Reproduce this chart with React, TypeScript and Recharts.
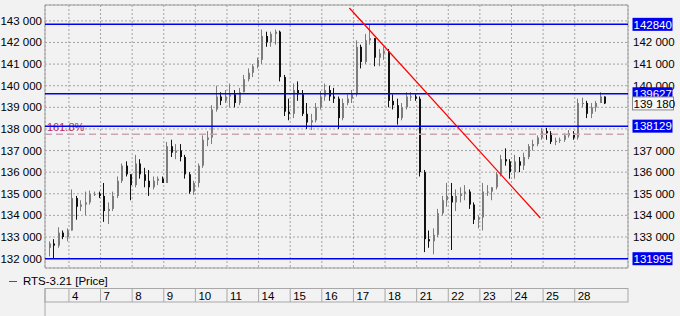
import { ComposedChart, Bar, XAxis, YAxis, CartesianGrid, ReferenceLine, ReferenceArea, Legend } from 'recharts';

// trading days shown on the time axis (February)
const dayLabels = ['4', '7', '8', '9', '10', '11', '14', '15', '16', '17', '18', '21', '22', '23', '24', '25', '28'];

// OHLC, first 5 bars are the tail of the previous session, then 7 bars per day
const opens = [
  132500, 132700, 132600, 133200, 133000,
  133300, 134800, 134400, 134500, 134600, 135000, 135000, // 4
  134900, 134200, 134300, 134900, 135600, 136300, 135900, // 7
  135400, 136400, 135900, 135600, 135300, 135600, 135700, // 8
  135500, 137200, 136900, 137000, 136700, 135900, 135100, // 9
  135500, 136300, 137500, 137600, 138900, 139500, 139300, // 10
  139500, 139600, 139200, 139700, 140300, 140600, 140900, // 11
  141200, 142300, 142000, 142400, 142500, 140400, 138800, // 14
  138700, 139800, 139600, 138700, 138300, 138400, 139000, // 15
  139500, 139800, 139500, 139400, 138500, 139200, 139400, // 16
  139600, 141800, 141100, 142100, 142200, 141300, 141500, // 17
  141600, 139300, 139100, 138500, 139000, 139500, 139500, // 18
  139400, 136000, 132900, 132800, 133100, 134100, 134700, // 21
  134900, 134600, 134900, 135000, 135100, 134500, 133800, // 22
  133900, 135100, 135100, 135300, 135900, 136600, 136500, // 23
  136000, 136500, 136300, 136700, 137200, 137300, 137600, // 24
  137900, 137800, 137400, 137450, 137500, 137700, 137800, // 25
  137600, 139200, 139200, 138700, 139000, 139200, 139500, // 28
];
const highs = [
  132800, 132900, 133450, 133300, 133400,
  135200, 134900, 134700, 135100, 135150, 135100, 135100,
  135500, 134600, 135100, 135800, 136400, 136500, 135900,
  136800, 136600, 136200, 136100, 135800, 135800, 135800,
  137400, 137500, 137300, 137300, 136800, 136000, 135600,
  136400, 137700, 137900, 139100, 140000, 139700, 139800,
  140100, 139800, 139900, 140500, 140800, 141000, 141300,
  142600, 142500, 142500, 142600, 142550, 140500, 139400,
  140100, 140200, 139800, 139200, 138700, 139200, 139750,
  140100, 140000, 139900, 139500, 139400, 139600, 139800,
  142100, 141900, 142400, 142840, 142200, 141700, 141800,
  141700, 139600, 139400, 139200, 139700, 139700, 139600,
  139500, 136100, 133300, 133400, 134300, 134900, 135500,
  135500, 135200, 135300, 135400, 135200, 134600, 134000,
  135500, 135400, 135300, 136000, 136800, 137100, 136600,
  136800, 136700, 136900, 137300, 137500, 137700, 138050,
  138050, 137900, 137600, 137600, 137800, 137950, 137900,
  139400, 139450, 139300, 139200, 139300, 139700, 139500,
];
const lows = [
  132100, 131995, 132500, 132900, 132800,
  133300, 133800, 134200, 134000, 134500, 134900, 134800,
  133700, 133600, 134200, 134800, 135500, 135800, 134700,
  135300, 135700, 135300, 134900, 135200, 135400, 135500,
  135500, 136700, 136600, 136500, 135700, 135000, 134950,
  135300, 136200, 137200, 137300, 138800, 139100, 139200,
  139000, 139000, 139100, 139700, 140200, 140400, 140800,
  141000, 141800, 141800, 141900, 140200, 138600, 138400,
  138500, 139300, 138600, 138000, 137950, 138300, 138900,
  139300, 139300, 139200, 138000, 138400, 139100, 139200,
  139500, 140800, 141000, 141900, 140900, 140900, 141200,
  139000, 138900, 138200, 138400, 138900, 139300, 139300,
  135800, 132300, 132500, 132200, 133000, 134000, 134400,
  132400, 134200, 134600, 134700, 134300, 133600, 133400,
  133300, 134900, 134700, 135200, 135800, 136300, 135700,
  135700, 136000, 136100, 136600, 137000, 137200, 137500,
  137500, 137300, 137250, 137350, 137400, 137600, 137500,
  137500, 139000, 138500, 138500, 138800, 139200, 139150,
];
const closes = [
  132700, 132600, 133200, 133000, 133300,
  134800, 134400, 134500, 134600, 135000, 135000, 134900,
  134200, 134300, 134900, 135600, 136300, 135900, 135400,
  136400, 135900, 135600, 135300, 135600, 135700, 135500,
  137200, 136900, 137000, 136700, 135900, 135100, 135500,
  136300, 137500, 137600, 138900, 139500, 139300, 139500,
  139600, 139200, 139700, 140300, 140600, 140900, 141200,
  142300, 142000, 142400, 142500, 140400, 138800, 138700,
  139800, 139600, 138700, 138300, 138400, 139000, 139500,
  139800, 139500, 139400, 138500, 139200, 139400, 139600,
  141800, 141100, 142100, 142200, 141300, 141500, 141600,
  139300, 139100, 138500, 139000, 139500, 139500, 139400,
  136000, 132900, 132800, 133100, 134100, 134700, 134900,
  134600, 134900, 135000, 135100, 134500, 133800, 133900,
  135100, 135100, 135300, 135900, 136600, 136500, 136000,
  136500, 136300, 136700, 137200, 137300, 137600, 137900,
  137800, 137400, 137450, 137500, 137700, 137800, 137600,
  139200, 139200, 138700, 139000, 139200, 139500, 139180,
];

const yTicks = [132000, 133000, 134000, 135000, 136000, 137000, 138000, 139000, 140000, 141000, 142000, 143000];
// right scale: labels not hidden behind the price tags
const rightPlainTicks = [133000, 134000, 135000, 136000, 137000, 140000, 141000, 142000];
const levels = [142840, 139627, 138129, 131995];
const fibLevel = 137752;
const fibLabel = '161.8%';
const lastPrice = 139180;
const trendLine = [{ x: 62.1, y: 143596 }, { x: 104.4, y: 133878 }];

const LEAD_BARS = 5;
const BARS_PER_DAY = 7;
const X_MIN = -5.3;
const X_MAX = 123.8;
const Y_MIN = 131565;
const Y_MAX = 143735;
const PLOT_W = 583;
const FONT = '"Liberation Sans", Arial, sans-serif';

const data = opens.map((o, i) => ({
  x: i - LEAD_BARS + 0.5,
  open: o,
  high: highs[i],
  low: lows[i],
  close: closes[i],
  range: [lows[i], highs[i]],
}));

const dayTicks = dayLabels.map((_, i) => i * BARS_PER_DAY);
const xTicks = [X_MIN, ...dayTicks];
// plain ticks first, price tags last so they paint on top
const rightTicks = [...rightPlainTicks, ...levels, lastPrice];

const fmt = (v: number) => {
  const s = String(v);
  return s.slice(0, s.length - 3) + ' ' + s.slice(-3);
};

const Candle = (props: any) => {
  const { x, y, width, height, payload } = props;
  const { open, close, high, low } = payload;
  const top = Math.min(y, y + height);
  const h = Math.abs(height);
  const k = h / (high - low || 1);
  const cx = Math.round(x + width / 2) + 0.5;
  const yO = top + (high - open) * k;
  const yC = top + (high - close) * k;
  const color = close >= open ? '#7c7c7c' : '#111111';
  const bt = Math.min(yO, yC);
  const bh = Math.max(Math.abs(yO - yC), 1);
  return (
    <g>
      <line x1={cx} x2={cx} y1={top} y2={top + h} stroke={color} strokeWidth={1} />
      <rect x={cx - 0.5} y={bt} width={2} height={bh} fill={color} />
    </g>
  );
};

const LeftTick = (props: any) => {
  const { x, y, payload } = props;
  return (
    <text x={x} y={y + 4} textAnchor="end" fill="#000" fontSize={11.5} fontFamily={FONT}>{fmt(payload.value)}</text>
  );
};

const RightTick = (props: any) => {
  const { x, y, payload } = props;
  const v = payload.value;
  if (levels.includes(v) || v === lastPrice) {
    const boxed = v === lastPrice;
    return (
      <g>
        <rect x={x - 0.5} y={y - 6.5} width={boxed ? 41 : 40} height={13}
          fill={boxed ? '#f7f7f7' : '#0000f0'} stroke={boxed ? '#8a8a8a' : 'none'} />
        <text x={x + 0.5} y={y + 4.2} fill={boxed ? '#000' : '#fff'} fontSize={11.5} fontFamily={FONT}>
          {boxed ? fmt(v) : String(v)}
        </text>
      </g>
    );
  }
  return (
    <text x={x} y={y + 4} fill="#000" fontSize={11.5} fontFamily={FONT}>{fmt(v)}</text>
  );
};

const FibTag = ({ viewBox }: any) => {
  if (!viewBox) return null;
  return (
    <text x={viewBox.x + 2} y={viewBox.y - 3} fill="#b4306a" fontSize={11} fontFamily={FONT}>{fibLabel}</text>
  );
};

const DayTick = (props: any) => {
  const { x, payload } = props;
  const idx = dayTicks.indexOf(payload.value);
  if (idx < 0) {
    return (
      <g>
        <rect x={x} y={288.5} width={PLOT_W} height={13.5} fill="none" stroke="#a8a8a8" />
        <line x1={x} x2={x} y1={288.5} y2={316} stroke="#a8a8a8" />
      </g>
    );
  }
  return (
    <g>
      <line x1={x} x2={x} y1={288.5} y2={302} stroke="#a8a8a8" />
      <text x={x + 3} y={299.5} fill="#000" fontSize={11.5} fontFamily={FONT}>{dayLabels[idx]}</text>
    </g>
  );
};

const LegendContent = () => (
  <div style={{ display: 'flex', alignItems: 'center', font: `11.5px ${FONT}`, color: '#000', whiteSpace: 'nowrap' }}>
    <span style={{ display: 'inline-block', width: 8, height: 1, background: '#555', marginRight: 6 }} />
    RTS-3.21 [Price]
  </div>
);

export default function App() {
  return (
    <div style={{ position: 'absolute', left: 0, top: 0, width: 680, height: 316, background: '#f2f2f2' }}>
      <ComposedChart width={680} height={316} data={data} margin={{ top: 5, right: 0, bottom: 0, left: 0 }}>
        <CartesianGrid stroke="#a4a4a4" strokeDasharray="2 2" yAxisId="left" />
        <XAxis dataKey="x" type="number" domain={[X_MIN, X_MAX]} ticks={xTicks} interval={0}
          allowDataOverflow height={48} axisLine={false} tickLine={false} tick={<DayTick />} />
        <YAxis yAxisId="left" type="number" domain={[Y_MIN, Y_MAX]} ticks={yTicks} allowDataOverflow interval={0}
          width={45} axisLine={false} tickLine={false} tickSize={3} tickMargin={0} tick={<LeftTick />} />
        <YAxis yAxisId="right" orientation="right" type="number" domain={[Y_MIN, Y_MAX]} ticks={rightTicks} allowDataOverflow interval={0}
          width={52} axisLine={false} tickLine={false} tickSize={5} tickMargin={0} tick={<RightTick />} />
        <ReferenceArea yAxisId="left" x1={X_MIN} x2={X_MAX} y1={Y_MIN} y2={Y_MAX} fill="none" stroke="#a0a0a0" fillOpacity={0} />
        <ReferenceLine yAxisId="left" y={fibLevel} stroke="#c9a3b6" strokeWidth={1.5} strokeDasharray="7 4" label={<FibTag />} />
        <Bar yAxisId="left" dataKey="range" name="RTS-3.21 [Price]" barSize={3} shape={<Candle />} isAnimationActive={false} />
        {levels.map((lv) => (
          <ReferenceLine key={lv} yAxisId="left" y={lv} stroke="#0000f0" strokeWidth={1.5} />
        ))}
        <ReferenceLine yAxisId="left" segment={trendLine} stroke="#ff0000" strokeWidth={1.3} />
        <Legend content={<LegendContent />} layout="horizontal" verticalAlign="middle" align="center"
          wrapperStyle={{ position: 'absolute', top: 275, left: 9, width: 'auto' }} />
      </ComposedChart>
    </div>
  );
}
